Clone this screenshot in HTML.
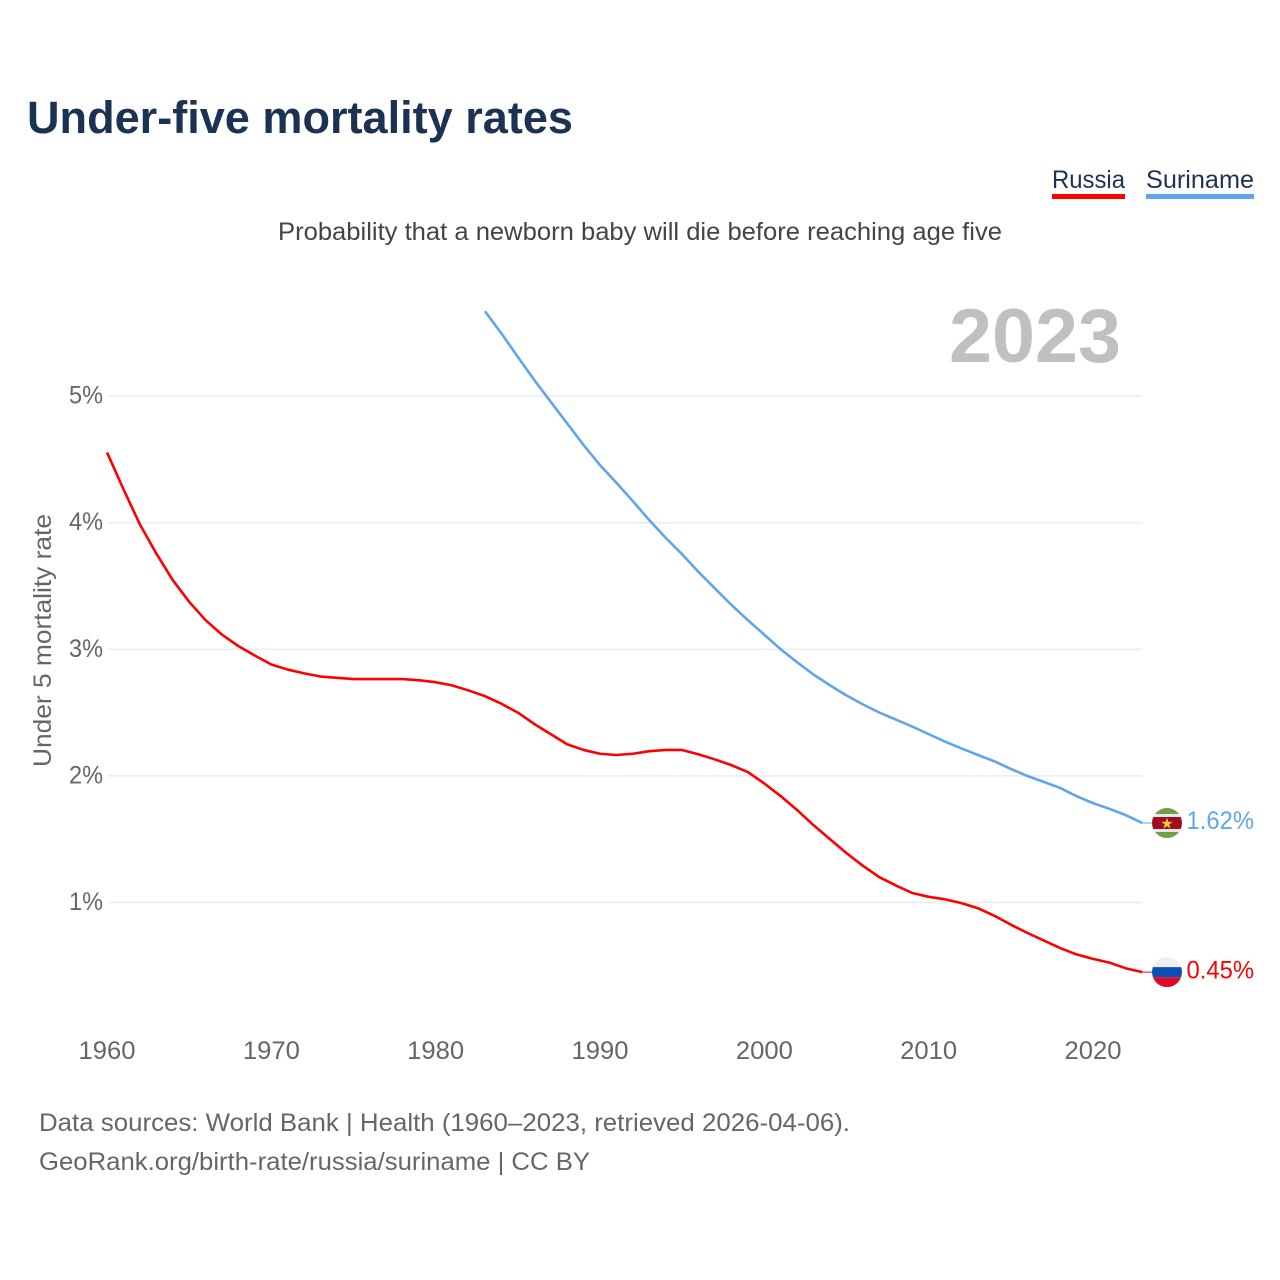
<!DOCTYPE html>
<html lang="en">
<head>
<meta charset="utf-8">
<title>Under-five mortality rates</title>
<style>
html,body{margin:0;padding:0;background:#fff;width:1280px;height:1280px;overflow:hidden}
svg{display:block}
text{font-family:"Liberation Sans",sans-serif}
</style>
</head>
<body>
<svg id="chart" xmlns="http://www.w3.org/2000/svg" width="1280" height="1280" viewBox="0 0 1280 1280">
  <rect width="1280" height="1280" fill="#fff"/>
  <text x="27" y="133" font-size="45" font-weight="700" fill="#1b3252" textLength="546" lengthAdjust="spacingAndGlyphs">Under-five mortality rates</text>
  <text x="278" y="240" font-size="25" fill="#444" textLength="724" lengthAdjust="spacingAndGlyphs">Probability that a newborn baby will die before reaching age five</text>

  <g>
    <text x="1052" y="188" font-size="25" fill="#1b3252" textLength="73" lengthAdjust="spacingAndGlyphs">Russia</text>
    <rect x="1052" y="194" width="73" height="5" fill="#ff0000"/>
  </g>
  <g>
    <text x="1146" y="188" font-size="25" fill="#1b3252" textLength="108" lengthAdjust="spacingAndGlyphs">Suriname</text>
    <rect x="1146" y="194" width="108" height="5" fill="#60a5ec"/>
  </g>

  <text x="949" y="362" font-size="76" font-weight="700" fill="#c0c0c0" textLength="172" lengthAdjust="spacingAndGlyphs">2023</text>

  <g id="grid"></g>
  <g id="yticks"></g>
  <g id="xticks"></g>
  <text transform="translate(51,767) rotate(-90)" x="0" y="0" font-size="25" fill="#666" textLength="253" lengthAdjust="spacingAndGlyphs">Under 5 mortality rate</text>
  <g id="series"></g>
  <g id="ends"></g>

  <text x="39" y="1131" font-size="25" fill="#666" textLength="811" lengthAdjust="spacingAndGlyphs">Data sources: World Bank | Health (1960–2023, retrieved 2026-04-06).</text>
  <text x="39" y="1170" font-size="25" fill="#666" textLength="551" lengthAdjust="spacingAndGlyphs">GeoRank.org/birth-rate/russia/suriname | CC BY</text>
</svg>
<script>
const russiaStartYear = 1960;
const surinameStartYear = 1983;
const russiaValues = [4.555,4.265,3.987,3.757,3.547,3.375,3.23,3.115,3.025,2.95,2.88,2.84,2.81,2.785,2.775,2.765,2.765,2.765,2.765,2.755,2.74,2.715,2.675,2.63,2.57,2.50,2.41,2.33,2.25,2.205,2.175,2.165,2.175,2.195,2.205,2.205,2.17,2.13,2.085,2.03,1.94,1.84,1.73,1.61,1.50,1.39,1.29,1.20,1.135,1.075,1.045,1.025,0.995,0.955,0.895,0.825,0.76,0.70,0.64,0.59,0.555,0.525,0.48,0.45];
const surinameValues = [5.67,5.495,5.31,5.127,4.955,4.785,4.613,4.455,4.315,4.17,4.02,3.88,3.75,3.61,3.48,3.35,3.23,3.115,3.00,2.897,2.80,2.715,2.635,2.565,2.50,2.445,2.39,2.33,2.27,2.217,2.165,2.115,2.055,2.00,1.953,1.905,1.84,1.785,1.74,1.69,1.628];
const yTickValues = [1,2,3,4,5];
const xTickValues = [1960,1970,1980,1990,2000,2010,2020];
const russiaEndLabel = "0.45%";
const surinameEndLabel = "1.62%";

const NS = "http://www.w3.org/2000/svg";
function xScale(year){ return 107 + (year - 1960) * (1093 - 107) / 60; }
function yScale(v){ return 1029.1 - v * 126.6; }
function make(tag, attrs, parent){
  const el = document.createElementNS(NS, tag);
  for (const k in attrs) el.setAttribute(k, attrs[k]);
  parent.appendChild(el);
  return el;
}
const grid = document.getElementById("grid");
const yticks = document.getElementById("yticks");
const xticks = document.getElementById("xticks");
const series = document.getElementById("series");
const ends = document.getElementById("ends");

yTickValues.forEach(function(v){
  const line = make("line", {x1:108, x2:1142, y1:yScale(v), y2:yScale(v), stroke:"#ececec", "stroke-width":1.5}, grid);
  
  
  const t = make("text", {x:69, y:yScale(v)+7.5, "font-size":25, fill:"#666", textLength:34, lengthAdjust:"spacingAndGlyphs"}, yticks);
  t.textContent = v + "%";
  
  
});
xTickValues.forEach(function(y){
  const t = make("text", {x:xScale(y)-28.5, y:1059, "font-size":25, fill:"#666", textLength:57, lengthAdjust:"spacingAndGlyphs"}, xticks);
  t.textContent = y;
  
  
});

function linePoints(values, startYear){
  return values.map(function(v,i){ return xScale(startYear+i).toFixed(2)+","+yScale(v).toFixed(2); }).join(" ");
}
const russiaLine = make("polyline", {points:linePoints(russiaValues,russiaStartYear), fill:"none", stroke:"#ff0000", "stroke-width":2.6, "stroke-linejoin":"round"}, series);


const surinameLine = make("polyline", {points:linePoints(surinameValues,surinameStartYear), fill:"none", stroke:"#60a5ec", "stroke-width":2.6, "stroke-linejoin":"round"}, series);



const defs = make("defs", {}, ends);
function endMarker(values, color, label, bands, id){
  const yv = yScale(values[values.length-1]);
  const x = xScale(2023);
  const connector = make("line", {x1:x, x2:1152, y1:yv, y2:yv, stroke:color, "stroke-width":1}, ends);
  
  
  const clip = make("clipPath", {id:id}, defs);
  make("circle", {cx:1167, cy:yv, r:15}, clip);
  const flag = make("g", {"clip-path":"url(#"+id+")"}, ends);
  
  
  bands.forEach(function(b){
    make("rect", {x:1150, y:yv+b[0], width:34, height:b[1], fill:b[2]}, flag);
  });
  const t = make("text", {x:1186.5, y:yv+6.2, "font-size":25, fill:color, textLength:67.5, lengthAdjust:"spacingAndGlyphs"}, ends);
  t.textContent = label;
  
  
  return yv;
}
const ySur = endMarker(surinameValues, "#60a5ec", surinameEndLabel, [[-15,6,"#6f9f46"],[-9,3,"#e8e8e8"],[-6,12,"#a00c22"],[6,3,"#e8e8e8"],[9,6,"#6f9f46"]], "clip-sr");
const star = make("text", {x:1167, y:ySur+5.5, "text-anchor":"middle", "font-size":15, fill:"#f7cb3c", style:'font-family:"DejaVu Sans",sans-serif'}, ends);
star.textContent = "★";


endMarker(russiaValues, "#ff0000", russiaEndLabel, [[-15,10,"#eeeeee"],[-5,10,"#0a50b4"],[5,10,"#dc0a2d"]], "clip-ru");
</script>
</body>
</html>
